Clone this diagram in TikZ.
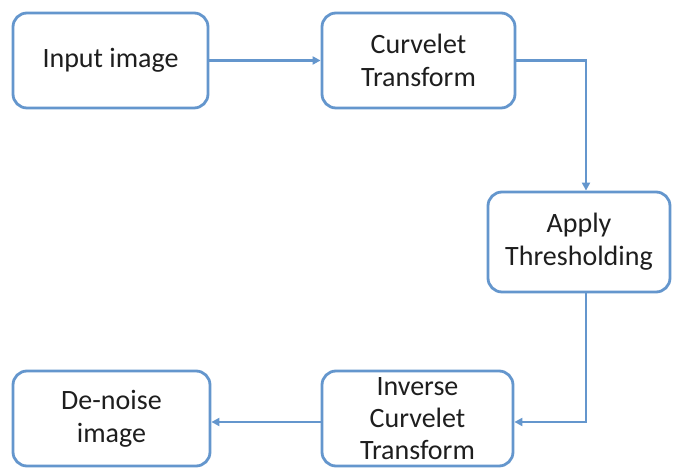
\documentclass[tikz,border=0pt]{standalone}
\usepackage{fontspec}
\setmainfont{Carlito}
\usetikzlibrary{arrows.meta}
\definecolor{edgeblue}{RGB}{100,150,205}
\definecolor{txt}{RGB}{30,30,30}
\tikzset{
  box/.style={draw=edgeblue, line width=2.8pt, rounded corners=14pt, fill=white,
    align=center, text=txt, font=\fontsize{28}{33}\selectfont, inner sep=0pt},
  conn/.style={draw=edgeblue, line width=2.6pt, -{Triangle[length=8pt,width=8pt]}}
}
\begin{document}
\begin{tikzpicture}[x=1pt,y=1pt]
\useasboundingbox (0,0) rectangle (673,468);
\node[box, minimum width=195pt, minimum height=95pt] (inp) at (110.5,407.5) {Input image};
\node[box, minimum width=193pt, minimum height=95pt] (cur) at (418.5,407.5) {Curvelet\\Transform};
\node[box, minimum width=182pt, minimum height=100pt] (thr) at (579,226) {Apply\\Thresholding};
\node[box, minimum width=197pt, minimum height=95pt] (den) at (111.5,49.5) {De-noise\\image};
\node[box, minimum width=191pt, minimum height=95pt, font=\fontsize{28}{32}\selectfont] (inv) at (417.5,49.5) {Inverse\\Curvelet\\Transform};
\coordinate (c1) at (586,407.5);
\coordinate (c2) at (586,46);
\draw[conn] (inp.east) -- (cur.west);
\draw[conn] (cur.east) -- (c1) -- (c1 |- thr.north);
\draw[conn] (c1 |- thr.south) -- (c2) -- (c2 -| inv.east);
\draw[conn] (inv.west |- c2) -- (c2 -| den.east);
\end{tikzpicture}
\end{document}
